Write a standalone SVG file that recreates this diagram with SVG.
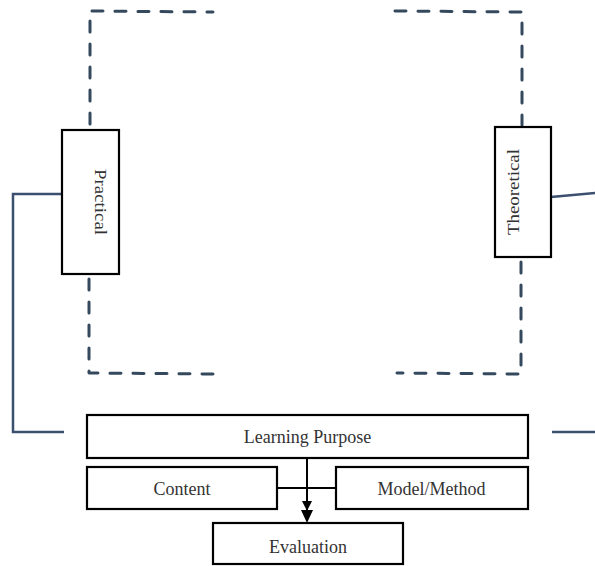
<svg xmlns="http://www.w3.org/2000/svg" width="595" height="566" viewBox="0 0 595 566">
<style>
.box{fill:#fff;stroke:#000;stroke-width:2.2}
.lbl{font-family:"Liberation Serif","Times New Roman",serif;font-size:18px;fill:#333;text-anchor:middle}
.dash{fill:none;stroke:#34495e;stroke-width:3;stroke-dasharray:11 12;stroke-linecap:round;stroke-linejoin:round}
.solid{fill:none;stroke:#3b4f6e;stroke-width:2.5}
.arr{fill:none;stroke:#000;stroke-width:2}
</style>
<defs>
<marker id="ah" viewBox="0 0 10 10" refX="10" refY="5" markerWidth="10" markerHeight="10" markerUnits="userSpaceOnUse" orient="auto">
<path d="M0,0 L10,5 L0,10 Z" fill="#000"/>
</marker>
</defs>
<g id="connectors">
<path class="dash" d="M90,124 L90,11 L213,12"/>
<path class="dash" d="M395,11 L522,12 L522,125"/>
<path class="dash" d="M89,279 L89,373 L217,374"/>
<path class="dash" d="M521,262 L521,374 L397,373"/>
<path class="solid" d="M62,194 L13,194 L13,432 L64,432"/>
<path class="solid" d="M551,197 L595,193"/>
<path class="solid" d="M552,432 L595,432"/>
<path class="arr" d="M277,488 L336,488"/>
<path class="arr" d="M307,458 L307,511" marker-end="url(#ah)" style="stroke-width:2"/>
<path d="M301,510 L313,510 L307,523 Z" fill="#000"/>
</g>
<g id="practical">
<rect class="box" x="62" y="130" width="57" height="144"/>
<text class="lbl" transform="translate(95,202) rotate(90)" textLength="66" lengthAdjust="spacingAndGlyphs" style="font-size:17px">Practical</text>
</g>
<g id="theoretical">
<rect class="box" x="495" y="127" width="56" height="130"/>
<text class="lbl" transform="translate(519,192) rotate(-90)" textLength="86" lengthAdjust="spacingAndGlyphs" style="font-size:17px">Theoretical</text>
</g>
<g id="learning-purpose">
<rect class="box" x="87" y="415" width="441" height="43"/>
<text class="lbl" x="307.5" y="443">Learning Purpose</text>
</g>
<g id="content">
<rect class="box" x="87" y="467" width="190" height="42"/>
<text class="lbl" x="182" y="495">Content</text>
</g>
<g id="model-method">
<rect class="box" x="336" y="467" width="192" height="42"/>
<text class="lbl" x="431.5" y="495">Model/Method</text>
</g>
<g id="evaluation">
<rect class="box" x="213" y="523" width="190" height="41"/>
<text class="lbl" x="308" y="553">Evaluation</text>
</g>
</svg>
